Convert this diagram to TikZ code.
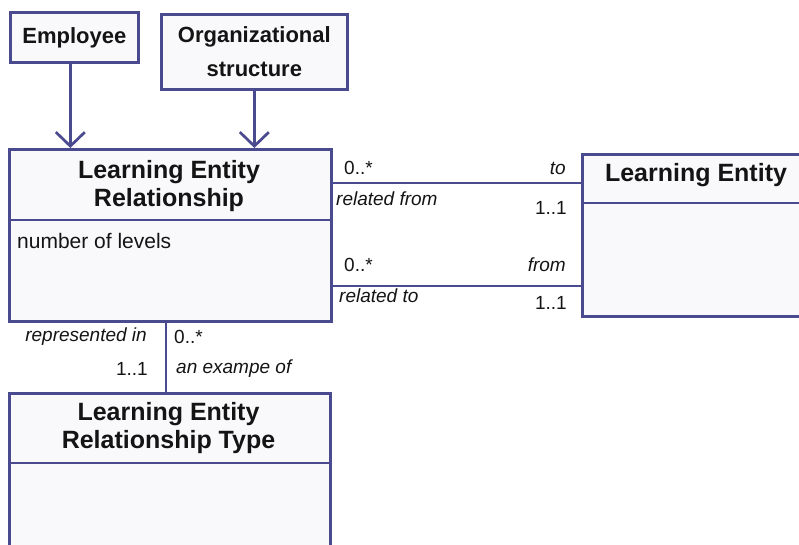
\documentclass[tikz,border=0pt]{standalone}
\usepackage{fontspec}
\setmainfont{Liberation Sans}
\usetikzlibrary{arrows.meta}
\definecolor{uml}{RGB}{74,74,142}
\definecolor{boxfill}{RGB}{249,249,251}
\definecolor{txt}{RGB}{20,20,20}
\tikzset{
  box/.style={draw=uml, line width=2.7pt, fill=boxfill, inner sep=0pt, anchor=north west},
  sep/.style={draw=uml, line width=2.7pt},
  conn/.style={draw=uml, line width=2.7pt},
  arr/.style={conn, -{Straight Barb[length=14pt,width=29pt,line width=2.7pt]}},
  title/.style={inner sep=0pt, align=center, text=txt, font=\bfseries\fontsize{25}{28}\selectfont},
  small/.style={inner sep=0pt, align=center, text=txt, font=\bfseries\fontsize{22}{34}\selectfont},
  lab/.style={inner sep=0pt, text=txt, font=\itshape\fontsize{19}{22}\selectfont},
  mult/.style={inner sep=0pt, text=txt, font=\fontsize{19}{22}\selectfont},
  attr/.style={inner sep=0pt, text=txt, font=\fontsize{21}{24}\selectfont}
}
\begin{document}
\begin{tikzpicture}[x=1pt,y=-1pt]
\useasboundingbox (0,0) rectangle (799,544);
\clip (0,0) rectangle (799,544);
% boxes
\node[box, minimum width=128pt, minimum height=50pt] (emp) at (9,11) {};
\node[small] (empt) at (emp.center) {Employee};
\node[box, minimum width=186pt, minimum height=75pt] (org) at (160,13) {};
\node[small] (orgt) at (org.center) {Organizational\\structure};
\node[box, minimum width=322pt, minimum height=172pt] (ler) at (8,148) {};
\node[title] (lert) at (169,186) {Learning Entity\\Relationship};
\draw[sep] (ler.west |- 0,220) -- (ler.east |- 0,220);
\node[attr, anchor=west] (attr1) at (17,241) {number of levels};
\node[box, minimum width=240pt, minimum height=162pt] (le) at (581,153) {};
\node[title] (let) at (696,175) {Learning Entity};
\draw[sep] (le.west |- 0,203) -- (le.east |- 0,203);
\node[box, minimum width=321pt, minimum height=180pt] (lrt) at (8,392) {};
\node[title] (lrtt) at (168.5,428) {Learning Entity\\Relationship Type};
\draw[sep] (lrt.west |- 0,463) -- (lrt.east |- 0,463);
% connectors
\draw[arr] ([xshift=-4pt]emp.south) -- ([xshift=-4pt]emp.south |- ler.north);
\draw[arr] (org.south) -- (org.south |- ler.north);
\draw[conn] ([yshift=-35pt]ler.north east) -- ([yshift=-35pt]ler.north east -| le.west);
\draw[conn] ([yshift=-138pt]ler.north east) -- ([yshift=-138pt]ler.north east -| le.west);
\draw[conn] ([xshift=158pt]ler.south west) -- ([xshift=158pt]ler.south west |- lrt.north);
% labels
\node[mult, anchor=west] (m1) at (344,168) {0..*};
\node[lab, anchor=east] (l1) at (566,168) {to};
\node[lab, anchor=west] (l2) at (336,199) {related from};
\node[mult, anchor=east] (m2) at (567,208) {1..1};
\node[mult, anchor=west] (m3) at (344,265) {0..*};
\node[lab, anchor=east] (l3) at (566,265) {from};
\node[lab, anchor=west] (l4) at (339,296) {related to};
\node[mult, anchor=east] (m4) at (567,303) {1..1};
\node[lab, anchor=east] (l5) at (147,337) {represented in};
\node[mult, anchor=west] (m5) at (174,337) {0..*};
\node[mult, anchor=east] (m6) at (148,369) {1..1};
\node[lab, anchor=west] (l6) at (176,369) {an exampe of};
\end{tikzpicture}
\end{document}
